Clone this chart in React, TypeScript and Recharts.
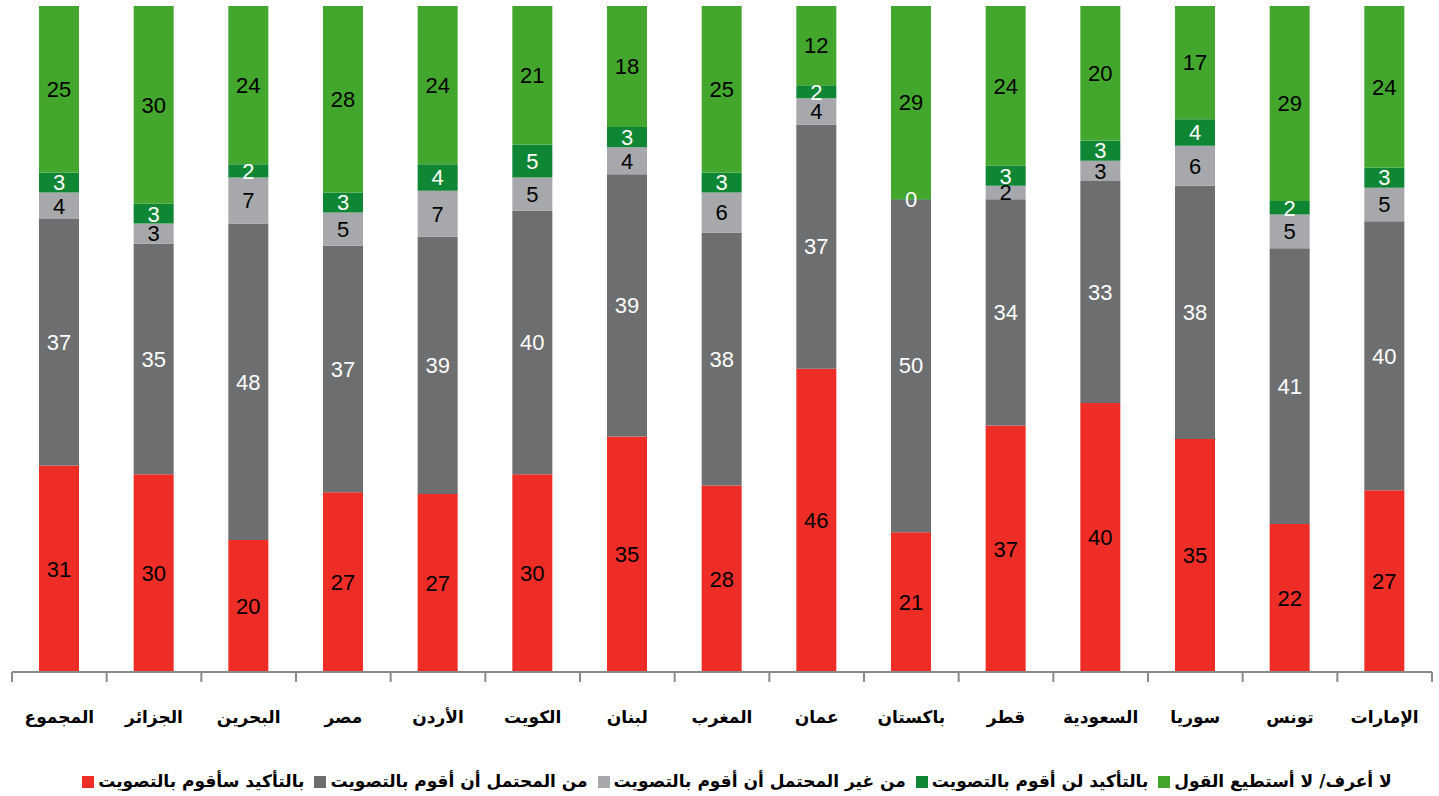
import React from 'react';
import { BarChart, Bar, XAxis, YAxis, Legend, LabelList } from 'recharts';

const categories = ['المجموع', 'الجزائر', 'البحرين', 'مصر', 'الأردن', 'الكويت', 'لبنان', 'المغرب', 'عمان', 'باكستان', 'قطر', 'السعودية', 'سوريا', 'تونس', 'الإمارات'];
const definitelyVote = [31, 30, 20, 27, 27, 30, 35, 28, 46, 21, 37, 40, 35, 22, 27];
const likelyVote = [37, 35, 48, 37, 39, 40, 39, 38, 37, 50, 34, 33, 38, 41, 40];
const unlikelyVote = [4, 3, 7, 5, 7, 5, 4, 6, 4, 0, 2, 3, 6, 5, 5];
const definitelyNot = [3, 3, 2, 3, 4, 5, 3, 3, 2, 0, 3, 3, 4, 2, 3];
const dontKnow = [25, 30, 24, 28, 24, 21, 18, 25, 12, 29, 24, 20, 17, 29, 24];

const seriesOrder = ['definitelyVote', 'likelyVote', 'unlikelyVote', 'definitelyNot', 'dontKnow'];
const seriesNames = {
  definitelyVote: 'بالتأكيد سأقوم بالتصويت',
  likelyVote: 'من المحتمل أن أقوم بالتصويت',
  unlikelyVote: 'من غير المحتمل أن أقوم بالتصويت',
  definitelyNot: 'بالتأكيد لن أقوم بالتصويت',
  dontKnow: 'لا أعرف/ لا أستطيع القول',
};

const data = categories.map((c, i) => ({
  name: c,
  definitelyVote: definitelyVote[i],
  likelyVote: likelyVote[i],
  unlikelyVote: unlikelyVote[i],
  definitelyNot: definitelyNot[i],
  dontKnow: dontKnow[i],
}));

const labelStyle = { fontFamily: '"Liberation Sans", Arial, sans-serif', fontSize: 22 };

function CategoryTick(props: any) {
  const { x, y, payload, index, width, visibleTicksCount } = props;
  const band = width / visibleTicksCount;
  return (
    <g>
      <line x1={x - band / 2} x2={x - band / 2} y1={y} y2={y + 10} stroke="#8a8a8a" strokeWidth={2} />
      {index === visibleTicksCount - 1 && (
        <line x1={x + band / 2} x2={x + band / 2} y1={y} y2={y + 10} stroke="#8a8a8a" strokeWidth={2} />
      )}
      <text x={x} y={y + 51} textAnchor="middle" fill="#000" fontSize={17} fontWeight="bold" fontFamily='"DejaVu Sans", sans-serif'>
        {payload.value}
      </text>
    </g>
  );
}

export default function App() {
  return (
    <div style={{ position: 'absolute', left: 0, top: 0, background: '#fff' }}>
      <BarChart
        width={1439}
        height={796}
        data={data}
        stackOffset="expand"
        barSize={40}
        margin={{ top: 6, right: 7, left: 12, bottom: 5 }}
      >
        <XAxis
          dataKey="name"
          tickLine={false}
          tickSize={0}
          tickMargin={0}
          axisLine={{ stroke: '#8a8a8a', strokeWidth: 2 }}
          height={99}
          interval={0}
          tick={<CategoryTick />}
        />
        <YAxis hide domain={[0, 1]} />
        <Legend
          verticalAlign="bottom"
          iconType="square"
          iconSize={12}
          itemSorter={(item: any) => seriesOrder.indexOf(item.dataKey)}
          wrapperStyle={{ fontFamily: '"DejaVu Sans", sans-serif', fontSize: 17, fontWeight: 'bold', paddingLeft: 20 }}
          formatter={(v) => <span style={{ color: '#000' }}>{v}</span>}
        />
        <Bar dataKey="definitelyVote" name={seriesNames.definitelyVote} stackId="a" fill="#ee2e26" isAnimationActive={false}>
          <LabelList dataKey="definitelyVote" position="center" fill="#000" style={labelStyle} />
        </Bar>
        <Bar dataKey="likelyVote" name={seriesNames.likelyVote} stackId="a" fill="#6d6e70" isAnimationActive={false}>
          <LabelList dataKey="likelyVote" position="center" fill="#fff" style={labelStyle} />
        </Bar>
        <Bar dataKey="unlikelyVote" name={seriesNames.unlikelyVote} stackId="a" fill="#a7a8ab" isAnimationActive={false}>
          <LabelList dataKey="unlikelyVote" position="center" fill="#000" style={labelStyle} />
        </Bar>
        {/* tiny minPointSize so the 0 share still gets its white label like in Excel */}
        <Bar dataKey="definitelyNot" name={seriesNames.definitelyNot} stackId="a" fill="#0f8634" minPointSize={0.1} isAnimationActive={false}>
          <LabelList dataKey="definitelyNot" position="center" fill="#fff" style={labelStyle} />
        </Bar>
        <Bar dataKey="dontKnow" name={seriesNames.dontKnow} stackId="a" fill="#43a62d" isAnimationActive={false}>
          <LabelList dataKey="dontKnow" position="center" fill="#000" style={labelStyle} />
        </Bar>
      </BarChart>
    </div>
  );
}
